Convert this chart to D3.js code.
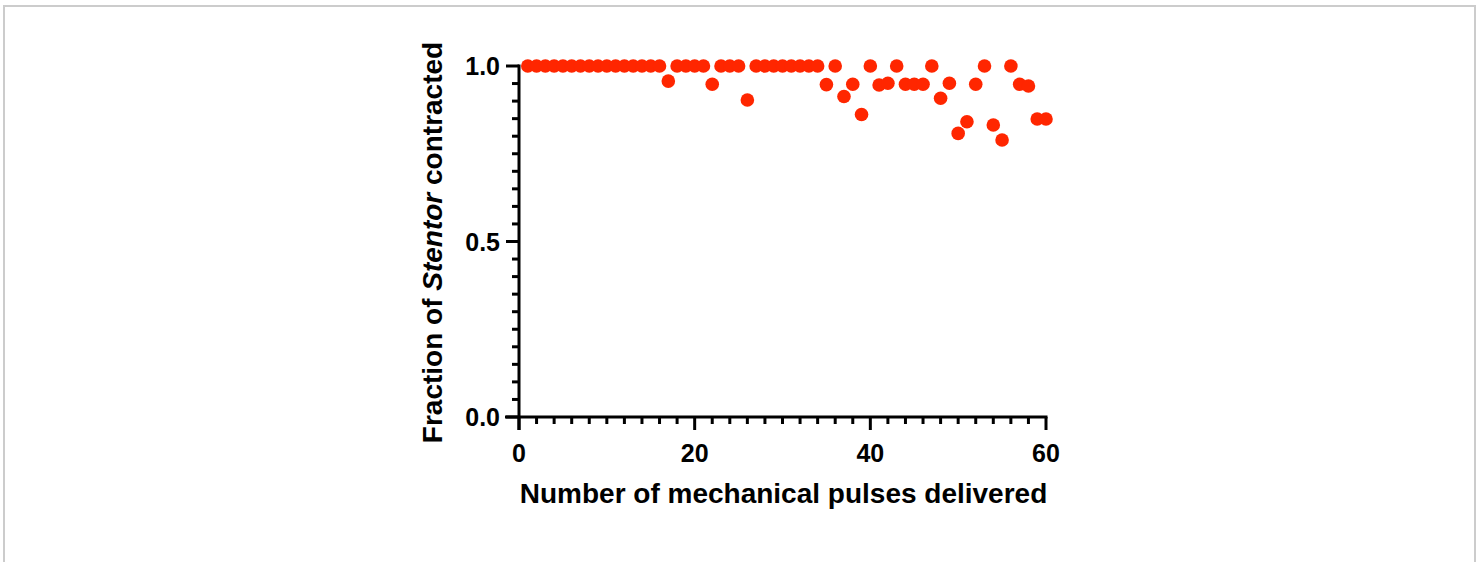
<!DOCTYPE html>
<html>
<head>
<meta charset="utf-8">
<script src="https://cdn.jsdelivr.net/npm/d3@7"></script>
<style>
  body { margin: 0; background: #fff; }
  svg text { font-family: "Liberation Sans", Arial, sans-serif; font-weight: bold; fill: #000; }
</style>
</head>
<body>
<div id="chart"></div>
<script>
// pulses delivered (x) and fraction contracted (y)
var pulses = d3.range(1, 61);
var fraction = [
  1, 1, 1, 1, 1, 1, 1, 1, 1, 1,
  1, 1, 1, 1, 1, 1, 0.957, 1, 1, 1,
  1, 0.948, 1, 1, 1, 0.903, 1, 1, 1, 1,
  1, 1, 1, 1, 0.947, 1, 0.913, 0.948, 0.862, 1,
  0.946, 0.951, 1, 0.948, 0.948, 0.948, 1, 0.908, 0.951, 0.808,
  0.841, 0.948, 1, 0.832, 0.789, 1, 0.948, 0.943, 0.849, 0.849
];
var xTicks = [0, 20, 40, 60];
var yTicks = [0, 0.5, 1.0];

var width = 1479, height = 562;

var svg = d3.select("#chart").append("svg")
    .attr("width", width)
    .attr("height", height);

// grey frame around the figure
svg.append("rect")
    .attr("x", 4).attr("y", 6)
    .attr("width", 1471).attr("height", 600)
    .attr("fill", "none")
    .attr("stroke", "#cccccc")
    .attr("stroke-width", 2);

var x = d3.scaleLinear().domain([0, 60]).range([519, 1046]);
var y = d3.scaleLinear().domain([0, 1]).range([417, 66]);

// x axis: line runs a bit left of the y axis, like Prism
var gx = svg.append("g");
gx.append("line")
    .attr("x1", 505).attr("x2", x(60) + 1.5)
    .attr("y1", y(0)).attr("y2", y(0))
    .attr("stroke", "#000").attr("stroke-width", 3);
gx.selectAll(".minor").data(d3.range(2, 60, 2).filter(d => d % 20 != 0))
  .enter().append("line")
    .attr("x1", d => x(d)).attr("x2", d => x(d))
    .attr("y1", y(0)).attr("y2", y(0) + 7)
    .attr("stroke", "#000").attr("stroke-width", 3);
gx.selectAll(".major").data(xTicks)
  .enter().append("line")
    .attr("x1", d => x(d)).attr("x2", d => x(d))
    .attr("y1", y(0)).attr("y2", y(0) + 13)
    .attr("stroke", "#000").attr("stroke-width", 3);
gx.selectAll("text").data(xTicks)
  .enter().append("text")
    .attr("x", d => x(d))
    .attr("y", 462)
    .attr("text-anchor", "middle")
    .style("font-size", "25px")
    .text(d => d);

// y axis
var gy = svg.append("g");
gy.append("line")
    .attr("x1", x(0)).attr("x2", x(0))
    .attr("y1", y(1) - 1.5).attr("y2", y(0) + 13)
    .attr("stroke", "#000").attr("stroke-width", 3);
gy.selectAll(".minor").data(d3.range(1, 20).filter(d => d != 10).map(d => d / 20))
  .enter().append("line")
    .attr("x1", x(0) - 7).attr("x2", x(0))
    .attr("y1", d => y(d)).attr("y2", d => y(d))
    .attr("stroke", "#000").attr("stroke-width", 3);
gy.selectAll(".major").data(yTicks)
  .enter().append("line")
    .attr("x1", x(0) - 13).attr("x2", x(0))
    .attr("y1", d => y(d)).attr("y2", d => y(d))
    .attr("stroke", "#000").attr("stroke-width", 3);
gy.selectAll("text").data(yTicks)
  .enter().append("text")
    .attr("x", 500)
    .attr("y", d => y(d) + 9)
    .attr("text-anchor", "end")
    .style("font-size", "25px")
    .text(d => d3.format(".1f")(d));

// axis titles
svg.append("text")
    .attr("x", (x(0) + x(60)) / 2 + 1)
    .attr("y", 503)
    .attr("text-anchor", "middle")
    .style("font-size", "28px")
    .text("Number of mechanical pulses delivered");

var yt = svg.append("text")
    .attr("transform", "translate(442," + ((y(0) + y(1)) / 2 + 1) + ") rotate(-90)")
    .attr("text-anchor", "middle")
    .style("font-size", "28px");
yt.append("tspan").text("Fraction of ");
yt.append("tspan").style("font-style", "italic").text("Stentor");
yt.append("tspan").text(" contracted");

// points
svg.append("g").selectAll("circle")
    .data(pulses)
  .enter().append("circle")
    .attr("cx", (d, i) => x(d))
    .attr("cy", (d, i) => y(fraction[i]))
    .attr("r", 6.8)
    .attr("fill", "#ff2600");
</script>
</body>
</html>
